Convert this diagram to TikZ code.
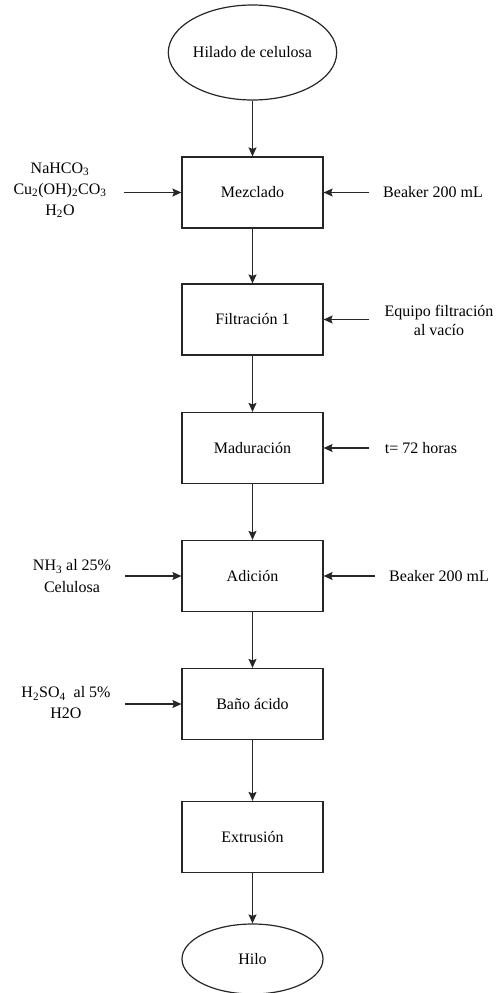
\documentclass[tikz,border=0pt]{standalone}
\usepackage{fontspec}
\setmainfont{Liberation Serif}
\usetikzlibrary{shapes.geometric,arrows.meta}
\begin{document}
\begin{tikzpicture}[x=1pt,y=-1pt,
  every node/.style={font=\fontsize{16}{19}\selectfont, text=black},
  procbox/.style={draw=black!85, line width=1.2pt, rectangle, minimum width=141pt, minimum height=71pt, inner sep=0pt},
  endcap/.style={draw=black!85, line width=1.2pt, ellipse, inner sep=0pt},
  lbl/.style={align=center, inner sep=0pt},
  flow/.style={draw=black!85, line width=1.2pt, -{Stealth[length=9pt,width=8pt,inset=1.5pt]}}
]
\useasboundingbox (0,0) rectangle (496,993);

% main sequence of stages
\node[endcap, minimum width=141pt, minimum height=95pt] (start) at (252.5,52.5) {Hilado de celulosa};
\node[procbox] (mez) at (252.5,192.5) {Mezclado};
\node[procbox] (fil) at (252.5,319.5) {Filtración 1};
\node[procbox] (mad) at (252.5,448) {Maduración};
\node[procbox] (adi) at (252.5,576) {Adición};
\node[procbox] (ban) at (252.5,704) {Baño ácido};
\node[procbox] (ext) at (252.5,837) {Extrusión};
\node[endcap, minimum width=141pt, minimum height=70pt] (fin) at (252.5,959) {Hilo};

% side inputs
\node[lbl, font=\fontsize{16}{21}\selectfont] (inMez) at (60,190) {NaHCO\textsubscript{3}\\Cu\textsubscript{2}(OH)\textsubscript{2}CO\textsubscript{3}\\H\textsubscript{2}O};
\node[lbl] (rMez) at (433,192) {Beaker 200 mL};
\node[lbl] (rFil) at (439,320) {Equipo filtración\\al vacío};
\node[lbl] (rMad) at (421,448) {t= 72 horas};
\node[lbl, font=\fontsize{16}{22}\selectfont] (inAdi) at (72,576) {NH\textsubscript{3} al 25\%\\Celulosa};
\node[lbl] (rAdi) at (439,576) {Beaker 200 mL};
\node[lbl, font=\fontsize{16}{21}\selectfont] (inBan) at (66,703) {H\textsubscript{2}SO\textsubscript{4}\ \ al 5\%\\H2O};

% free ends of the side arrows
\coordinate (aMez) at (124,192.5);
\coordinate (bMez) at (369,192.5);
\coordinate (bFil) at (369,319.5);
\coordinate (bMad) at (369,448);
\coordinate (aAdi) at (125,576);
\coordinate (bAdi) at (375,576);
\coordinate (aBan) at (125,704);

% connectors
\draw[flow] (start) -- (mez);
\draw[flow] (mez) -- (fil);
\draw[flow] (fil) -- (mad);
\draw[flow] (mad) -- (adi);
\draw[flow] (adi) -- (ban);
\draw[flow] (ban) -- (ext);
\draw[flow] (ext) -- (fin);

\draw[flow] (aMez) -- (mez.west);
\draw[flow] (bMez) -- (mez.east);
\draw[flow] (bFil) -- (fil.east);
\draw[flow] (bMad) -- (mad.east);
\draw[flow] (aAdi) -- (adi.west);
\draw[flow] (bAdi) -- (adi.east);
\draw[flow] (aBan) -- (ban.west);
\end{tikzpicture}
\end{document}
